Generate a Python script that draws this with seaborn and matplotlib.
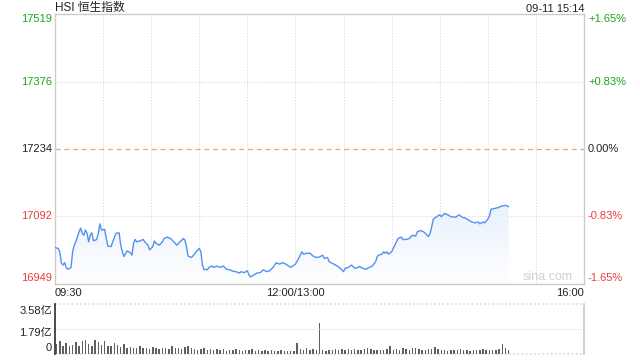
import numpy as np
import pandas as pd
import matplotlib
matplotlib.use("Agg")
import matplotlib.pyplot as plt
import seaborn as sns
from matplotlib.colors import LinearSegmentedColormap

# ---------------- data ----------------
title = "HSI 恒生指数"
stamp = "09-11 15:14"
prev_close = 17234
y_ticks = [16949, 17092, 17234, 17376, 17519]
pct_labels = ["-1.65%", "-0.83%", "0.00%", "+0.83%", "+1.65%"]
x_tick_labels = ["09:30", "12:00/13:00", "16:00"]
vol_tick_labels = ["0", "1.79亿", "3.58亿"]
vol_ticks = [0, 1.79, 3.58]

# elapsed trading minutes since 09:30 (lunch break removed)
minutes = [0, 2, 3, 4, 5, 6, 7, 8, 10, 11, 12, 13, 15, 16, 17, 18, 19, 20, 21, 22,
           23, 24, 26, 27, 28, 29, 31, 32, 33, 35, 36, 38, 40, 41, 42, 43, 45, 47, 48, 49,
           50, 51, 53, 55, 56, 58, 59, 61, 62, 63, 65, 67, 68, 70, 72, 73, 75, 76, 78, 80,
           81, 82, 83, 85, 86, 88, 90, 91, 92, 93, 94, 95, 96, 98, 99, 101, 103, 105, 107, 109,
           111, 113, 115, 116, 118, 120, 121, 122, 124, 126, 128, 130, 132, 134, 136, 138, 140, 142, 144, 147,
           150, 152, 154, 155, 157, 159, 161, 163, 165, 167, 168, 170, 171, 174, 176, 178, 180, 181, 183, 185,
           187, 189, 190, 192, 194, 196, 198, 200, 201, 202, 204, 205, 206, 207, 208, 210, 211, 213, 214, 216,
           217, 219, 221, 223, 225, 226, 228, 230, 231, 233, 234, 235, 236, 238, 240, 241, 243, 245, 247, 250,
           252, 254, 256, 258, 260, 262, 264, 265, 267, 268, 270, 271, 272, 275, 277, 279, 281, 282, 283]
price = [17026, 17024, 17017, 16993, 16989, 16994, 16984, 16980, 16984, 17017, 17031, 17038, 17059, 17067, 17056, 17052, 17063, 17056, 17038, 17052,
         17057, 17040, 17043, 17056, 17076, 17063, 17064, 17045, 17029, 17028, 17038, 17056, 17057, 17031, 17017, 17007, 17019, 17015, 17010, 17035,
         17043, 17038, 17040, 17043, 17038, 17031, 17021, 17028, 17040, 17035, 17031, 17038, 17045, 17048, 17045, 17042, 17035, 17031, 17038, 17045,
         17042, 17028, 17008, 17005, 17008, 17017, 17024, 17017, 16989, 16979, 16980, 16979, 16984, 16987, 16984, 16987, 16984, 16987, 16980, 16979,
         16976, 16975, 16972, 16975, 16973, 16977, 16968, 16964, 16968, 16972, 16973, 16979, 16975, 16977, 16984, 16994, 16991, 16994, 16991, 16984,
         16991, 17003, 17017, 17012, 17014, 17014, 17008, 17005, 17006, 17010, 17003, 17005, 16996, 16991, 16987, 16982, 16975, 16982, 16984, 16989,
         16982, 16984, 16986, 16982, 16980, 16984, 16987, 16996, 17007, 17010, 17012, 17017, 17014, 17017, 17012, 17017, 17024, 17038, 17045, 17048,
         17043, 17043, 17045, 17052, 17050, 17059, 17062, 17059, 17056, 17049, 17056, 17070, 17086, 17091, 17095, 17091, 17098, 17095, 17091, 17090,
         17095, 17090, 17088, 17084, 17080, 17078, 17080, 17076, 17080, 17078, 17086, 17092, 17107, 17109, 17111, 17114, 17115, 17114, 17112]

# volume per 2-minute bar, in 亿
volume = [0.75, 0.90, 0.60, 0.80, 0.55, 0.65, 0.85, 0.60, 0.95, 1.00, 0.70, 0.60, 1.00, 0.85, 0.65, 0.90, 0.60, 0.55, 0.80, 0.65,
          0.50, 0.75, 0.45, 0.50, 0.40, 0.45, 0.55, 0.40, 0.45, 0.35, 0.50, 0.40, 0.35, 0.45, 0.40, 0.35, 0.60, 0.45, 0.40, 0.35,
          0.50, 0.55, 0.40, 0.35, 0.30,
          0.35, 0.40, 0.30, 0.35, 0.28, 0.33, 0.30, 0.35, 0.25, 0.30, 0.28, 0.35, 0.30, 0.25, 0.28, 0.30, 0.35, 0.25, 0.28, 0.22,
          0.30, 0.25, 0.28, 0.22, 0.25, 0.30, 0.22, 0.25, 0.20, 0.25,
          0.77,
          0.35, 0.30, 0.40, 0.32, 0.35, 0.28,
          2.20,
          0.30, 0.25, 0.32, 0.28, 0.35, 0.30, 0.33, 0.28, 0.38, 0.30, 0.35, 0.28, 0.30, 0.33, 0.40, 0.35, 0.30, 0.28, 0.32, 0.30, 0.35,
          0.57,
          0.30, 0.35, 0.32, 0.40, 0.35, 0.30, 0.45, 0.40, 0.35, 0.32, 0.30, 0.35, 0.38,
          0.50,
          0.35, 0.30, 0.28, 0.25, 0.30, 0.28, 0.32, 0.35, 0.30, 0.28, 0.25, 0.32, 0.30, 0.28, 0.35, 0.30, 0.32, 0.28, 0.30, 0.35,
          0.69,
          0.40, 0.30]
vol_minutes = list(range(0, 2 * len(volume), 2))

df = pd.DataFrame({"minute": minutes, "price": price})
vdf = pd.DataFrame({"minute": vol_minutes, "volume": volume})

# ---------------- style ----------------
sns.set_theme(style="white")
plt.rcParams["font.family"] = ["Liberation Sans", "Noto Sans CJK SC", "DejaVu Sans"]

GREEN = "#1ba51b"
RED = "#f03c3c"
GRID = "#d9d9d9"
SPINE = "#cccccc"
LINE = "#5490f2"
TXT = "#222222"

fig = plt.figure(figsize=(6.4, 3.6), dpi=100)
ax = fig.add_axes([55 / 640, 1 - 284 / 360, 529 / 640, 270 / 360])
vax = fig.add_axes([55 / 640, 1 - 354 / 360, 529 / 640, 50 / 360])

T = 330
ymin, ymax = y_ticks[0], y_ticks[-1]

# gradient fill under the line
poly = ax.fill_between(df["minute"], df["price"], ymin, color="none", lw=0)
cmap = LinearSegmentedColormap.from_list("fade", ["#ffffff", "#e9f1fd"])
grad = np.linspace(0, 1, 256).reshape(-1, 1)
im = ax.imshow(grad, extent=[0, max(minutes), ymin, max(price)], origin="lower",
               aspect="auto", cmap=cmap, zorder=1)
im.set_clip_path(poly.get_paths()[0], transform=ax.transData)

sns.lineplot(data=df, x="minute", y="price", ax=ax, color=LINE, lw=1.0, zorder=3)

ax.set_xlim(0, T)
ax.set_ylim(ymin, ymax)
for xv in range(30, T, 30):
    ax.axvline(xv, color=GRID, lw=0.8, ls=(0, (1, 1.5)), zorder=0)
for yv in [y_ticks[1], y_ticks[3]]:
    ax.axhline(yv, color=GRID, lw=0.8, ls=(0, (1, 1.5)), zorder=0)
ax.axhline(prev_close, color="#f4a56c", lw=0.9, ls=(0, (4, 3)), zorder=0)

ax.set_xticks([])
ax.set_yticks([])
ax.set_xlabel("")
ax.set_ylabel("")
for s in ax.spines.values():
    s.set_color(SPINE)
    s.set_linewidth(1.0)

# left price labels, right pct labels
lcolors = [RED, RED, TXT, GREEN, GREEN]
for i, (v, c, pl) in enumerate(zip(y_ticks, lcolors, pct_labels)):
    dy = 0
    if i == 0:
        dy = 6
    if i == len(y_ticks) - 1:
        dy = -5
    ax.annotate(str(v), xy=(0, v), xycoords=("axes fraction", "data"),
                xytext=(-3, dy), textcoords="offset pixels", ha="right", va="center",
                fontsize=8, color=c)
    ax.annotate(pl, xy=(1, v), xycoords=("axes fraction", "data"),
                xytext=(4, dy), textcoords="offset pixels", ha="left", va="center",
                fontsize=8, color=c)

# x labels
ax.annotate(x_tick_labels[0], xy=(0, 0), xycoords="axes fraction", xytext=(0, -9),
            textcoords="offset pixels", ha="left", va="center", fontsize=8, color=TXT)
ax.annotate(x_tick_labels[1], xy=(150 / T, 0), xycoords="axes fraction", xytext=(0, -9),
            textcoords="offset pixels", ha="center", va="center", fontsize=8, color=TXT)
ax.annotate(x_tick_labels[2], xy=(1, 0), xycoords="axes fraction", xytext=(0, -9),
            textcoords="offset pixels", ha="right", va="center", fontsize=8, color=TXT)

ax.text(0.0, 1.0, title, transform=ax.transAxes, ha="left", va="bottom",
        fontsize=8.5, color=TXT,
        family=["Liberation Sans", "Noto Sans CJK SC"])
ax.text(1.0, 1.0, stamp, transform=ax.transAxes, ha="right", va="bottom",
        fontsize=8, color=TXT)
ax.text(0.979, 0.004, "sina.com", transform=ax.transAxes, ha="right", va="bottom",
        fontsize=9, color="#d0d0d0", zorder=5)

# volume
vax.bar(vdf["minute"] + 1, vdf["volume"], width=0.9, color="#606060", lw=0)
vax.set_xlim(0, T)
vax.set_ylim(0, 3.58)
vax.axhline(1.79, color=GRID, lw=0.8, ls=(0, (1, 1.5)))
vax.axhline(3.58, color=GRID, lw=1.2, ls=(0, (1, 1.5)), clip_on=False)
vax.axhline(0, color=GRID, lw=1.2, ls=(0, (1, 1.5)), clip_on=False, zorder=0)
vax.set_xticks([])
vax.set_yticks([])
vax.set_xlabel("")
vax.set_ylabel("")
for k in ["top", "bottom"]:
    vax.spines[k].set_visible(False)
vax.spines["left"].set_color("#333333")
vax.spines["right"].set_color(SPINE)
vdys = [6, -4, -7]
for v, lab, dy in zip(vol_ticks, vol_tick_labels, vdys):
    vax.annotate(lab, xy=(0, v), xycoords=("axes fraction", "data"), xytext=(-3, dy),
                 textcoords="offset pixels", ha="right", va="center", fontsize=8,
                 color=TXT, family=["Liberation Sans", "Noto Sans CJK SC"])

fig.savefig("out.png", dpi=100, facecolor="white")
